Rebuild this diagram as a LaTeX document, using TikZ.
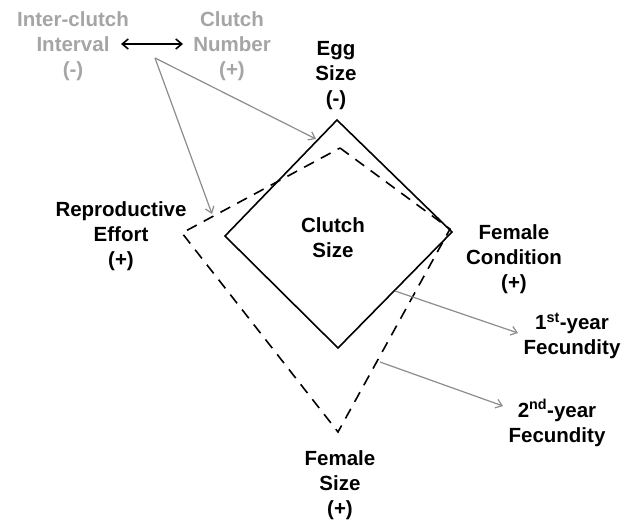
\documentclass[tikz,border=0pt]{standalone}
\usepackage{fontspec}
\setmainfont{Liberation Sans}
\usetikzlibrary{arrows.meta}
\definecolor{lgray}{RGB}{165,165,165}
\definecolor{agray}{RGB}{140,140,140}
\begin{document}
\begin{tikzpicture}[x=1pt,y=-1pt,
  lbl/.style={align=center,font=\fontsize{20.5}{25}\selectfont\bfseries,inner sep=0pt},
  glbl/.style={lbl,text=lgray},
  garrow/.style={draw=agray,line width=1.2pt,-{Straight Barb[length=6pt,width=9pt]}},
  solidd/.style={draw=black,line width=1.6pt,line join=miter},
  dashd/.style={draw=black,line width=1.6pt,dash pattern=on 11pt off 8pt}]
\useasboundingbox (0,0) rectangle (634,519);
% diamonds
\coordinate (st) at (337,120);
\coordinate (sr) at (452,232);
\coordinate (sb) at (338,348);
\coordinate (sl) at (225,236);
\coordinate (dt) at (340,148);
\coordinate (dr) at (450,229);
\coordinate (db) at (338,432);
\coordinate (dl) at (182,233);
\draw[solidd] (st) -- (sr) -- (sb) -- (sl) -- cycle;
\draw[dashd] (dt) -- (dr) -- (db) -- (dl) -- cycle;
% labels
\node[glbl] (ici) at (73,46) {Inter-clutch\\Interval\\(-)};
\node[glbl] (cn) at (232,46) {Clutch\\Number\\(+)};
\node[lbl] (egg) at (336,76) {Egg\\Size\\(-)};
\node[lbl] (re) at (121,236) {Reproductive\\Effort\\(+)};
\node[lbl] (cs) at (333,238) {Clutch\\Size};
\node[lbl] (fc) at (514,259) {Female\\Condition\\(+)};
\node[lbl] (f1) at (572,336) {1\textsuperscript{st}-year\\Fecundity};
\node[lbl] (f2) at (557,423) {2\textsuperscript{nd}-year\\Fecundity};
\node[lbl] (fs) at (340,485) {Female\\Size\\(+)};
% connector end points
\coordinate (da) at (121,44);
\coordinate (db2) at (183,44);
\coordinate (gs) at (155,58);
\coordinate (g1) at (316,139);
\coordinate (g2) at (212,214);
\coordinate (s1) at (395,291);
\coordinate (e1) at (518,333);
\coordinate (s2) at (380,362);
\coordinate (e2) at (503,406);
% connectors
\draw[black,line width=1.6pt,{Straight Barb[length=6pt,width=10pt]}-{Straight Barb[length=6pt,width=10pt]}] (da) -- (db2);
\draw[garrow] (gs) -- (g1);
\draw[garrow] (gs) -- (g2);
\draw[garrow] (s1) -- (e1);
\draw[garrow] (s2) -- (e2);
\end{tikzpicture}
\end{document}
